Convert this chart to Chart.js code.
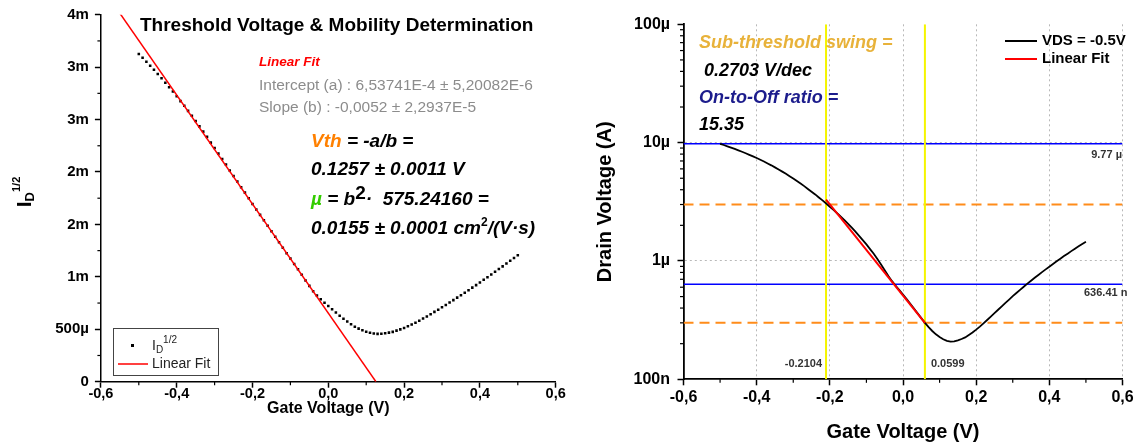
<!DOCTYPE html>
<html>
<head>
<meta charset="utf-8">
<script src="https://cdn.jsdelivr.net/npm/chart.js@4.4.0/dist/chart.umd.min.js"></script>
<style>
  body { margin: 0; background: #fff; width: 1138px; height: 445px; overflow: hidden; position: relative; }
  canvas { position: absolute; top: 0; }
  #left { left: 0; }
  #right { left: 565px; }
</style>
</head>
<body>
<canvas id="left" width="575" height="445"></canvas>
<canvas id="right" width="573" height="445"></canvas>
<script>
// measured transfer curve, VDS = -0.5 V
const gateVoltage = [
  -0.50, -0.49, -0.48, -0.47, -0.46, -0.45, -0.44, -0.43, -0.42, -0.41,
  -0.40, -0.39, -0.38, -0.37, -0.36, -0.35, -0.34, -0.33, -0.32, -0.31,
  -0.30, -0.29, -0.28, -0.27, -0.26, -0.25, -0.24, -0.23, -0.22, -0.21,
  -0.20, -0.19, -0.18, -0.17, -0.16, -0.15, -0.14, -0.13, -0.12, -0.11,
  -0.10, -0.09, -0.08, -0.07, -0.06, -0.05, -0.04, -0.03, -0.02, -0.01,
  0.00,
  0.01, 0.02, 0.03, 0.04, 0.05, 0.06, 0.07, 0.08, 0.09, 0.10,
  0.11, 0.12, 0.13, 0.14, 0.15, 0.16, 0.17, 0.18, 0.19, 0.20,
  0.21, 0.22, 0.23, 0.24, 0.25, 0.26, 0.27, 0.28, 0.29, 0.30,
  0.31, 0.32, 0.33, 0.34, 0.35, 0.36, 0.37, 0.38, 0.39, 0.40,
  0.41, 0.42, 0.43, 0.44, 0.45, 0.46, 0.47, 0.48, 0.49, 0.50
];

const drainCurrent = [
  9.77e-6, 9.55e-6, 9.31e-6, 9.08e-6, 8.85e-6, 8.61e-6, 8.37e-6, 8.13e-6, 7.89e-6, 7.66e-6,
  7.41e-6, 7.16e-6, 6.92e-6, 6.67e-6, 6.43e-6, 6.18e-6, 5.93e-6, 5.69e-6, 5.45e-6, 5.20e-6,
  4.97e-6, 4.73e-6, 4.51e-6, 4.29e-6, 4.06e-6, 3.85e-6, 3.65e-6, 3.44e-6, 3.25e-6, 3.06e-6,
  2.87e-6, 2.70e-6, 2.53e-6, 2.37e-6, 2.21e-6, 2.06e-6, 1.91e-6, 1.77e-6, 1.63e-6, 1.50e-6,
  1.38e-6, 1.26e-6, 1.15e-6, 1.04e-6, 0.933e-6, 0.835e-6, 0.745e-6, 0.675e-6, 0.618e-6, 0.567e-6,
  0.520e-6,
  0.476e-6, 0.435e-6, 0.396e-6, 0.361e-6, 0.329e-6, 0.300e-6, 0.276e-6, 0.256e-6, 0.240e-6, 0.228e-6,
  0.218e-6, 0.211e-6, 0.208e-6, 0.209e-6, 0.213e-6, 0.219e-6, 0.226e-6, 0.237e-6, 0.249e-6, 0.263e-6,
  0.279e-6, 0.297e-6, 0.317e-6, 0.339e-6, 0.362e-6, 0.387e-6, 0.414e-6, 0.443e-6, 0.472e-6, 0.504e-6,
  0.536e-6, 0.570e-6, 0.605e-6, 0.643e-6, 0.681e-6, 0.721e-6, 0.762e-6, 0.805e-6, 0.849e-6, 0.895e-6,
  0.944e-6, 0.993e-6, 1.045e-6, 1.099e-6, 1.153e-6, 1.211e-6, 1.271e-6, 1.331e-6, 1.393e-6, 1.455e-6
];

// I_D^1/2 of the same sweep
const sqrtDrainCurrent = [
  3.126e-3, 3.090e-3, 3.051e-3, 3.013e-3, 2.975e-3, 2.934e-3, 2.893e-3, 2.851e-3, 2.809e-3, 2.768e-3,
  2.722e-3, 2.676e-3, 2.631e-3, 2.583e-3, 2.536e-3, 2.486e-3, 2.435e-3, 2.385e-3, 2.335e-3, 2.280e-3,
  2.229e-3, 2.175e-3, 2.124e-3, 2.071e-3, 2.015e-3, 1.962e-3, 1.910e-3, 1.855e-3, 1.803e-3, 1.749e-3,
  1.694e-3, 1.643e-3, 1.591e-3, 1.539e-3, 1.487e-3, 1.435e-3, 1.382e-3, 1.330e-3, 1.277e-3, 1.225e-3,
  1.175e-3, 1.122e-3, 1.072e-3, 1.020e-3, 0.966e-3, 0.914e-3, 0.863e-3, 0.822e-3, 0.786e-3, 0.753e-3,
  0.721e-3,
  0.690e-3, 0.660e-3, 0.629e-3, 0.601e-3, 0.574e-3, 0.548e-3, 0.525e-3, 0.506e-3, 0.490e-3, 0.477e-3,
  0.467e-3, 0.459e-3, 0.456e-3, 0.457e-3, 0.462e-3, 0.468e-3, 0.475e-3, 0.487e-3, 0.499e-3, 0.513e-3,
  0.528e-3, 0.545e-3, 0.563e-3, 0.582e-3, 0.602e-3, 0.622e-3, 0.643e-3, 0.666e-3, 0.687e-3, 0.710e-3,
  0.732e-3, 0.755e-3, 0.778e-3, 0.802e-3, 0.825e-3, 0.849e-3, 0.873e-3, 0.897e-3, 0.921e-3, 0.946e-3,
  0.972e-3, 0.996e-3, 1.022e-3, 1.048e-3, 1.074e-3, 1.100e-3, 1.127e-3, 1.154e-3, 1.180e-3, 1.206e-3
];

// linear fit of I_D^1/2 (a + b*Vg)
const fitIntercept = 6.53741e-4;
const fitSlope = -0.0052;
const fitGateRange = [-0.6, 0.1257];

// sub-threshold fit and marker lines
const ssFitGate = [-0.2104, 0.0599];
const ssFitCurrent = [3.3e-6, 3.0e-7];
const ssGateMarks = [-0.2104, 0.0599];
const decadeLevels = [3e-6, 3e-7];
const onOffLevels = [9.77e-6, 636.41e-9];

// axes
const gateRange = [-0.6, 0.6];
const xTickValues = [-0.6, -0.4, -0.2, 0, 0.2, 0.4, 0.6];
const xTickLabels = ['-0,6', '-0,4', '-0,2', '0,0', '0,2', '0,4', '0,6'];
const xMinorTicks = [-0.5, -0.3, -0.1, 0.1, 0.3, 0.5];
const leftYTickValues = [0, 0.5e-3, 1e-3, 1.5e-3, 2e-3, 2.5e-3, 3e-3, 3.5e-3];
const leftYTickLabels = ['0', '500µ', '1m', '2m', '2m', '3m', '3m', '4m'];
const leftYMinorTicks = [0.25e-3, 0.75e-3, 1.25e-3, 1.75e-3, 2.25e-3, 2.75e-3, 3.25e-3];
const rightYRange = [1e-7, 1e-4];
const rightYTickValues = [1e-7, 1e-6, 1e-5, 1e-4];
const rightYTickLabels = ['100n', '1µ', '10µ', '100µ'];
const rightYMinorTicks = [
  2e-7, 3e-7, 4e-7, 5e-7, 6e-7, 7e-7, 8e-7, 9e-7,
  2e-6, 3e-6, 4e-6, 5e-6, 6e-6, 7e-6, 8e-6, 9e-6,
  2e-5, 3e-5, 4e-5, 5e-5, 6e-5, 7e-5, 8e-5, 9e-5
];

const FONT = '"Liberation Sans", Arial, sans-serif';
Chart.defaults.font.family = FONT;
Chart.defaults.color = '#000';

const pts = (xs, ys) => xs.map((x, i) => ({ x: x, y: ys[i] }));

function drawRuns(ctx, x, y, runs, align) {
  // runs: [text, font, color, dy]
  let total = 0;
  runs.forEach(r => { ctx.font = r[1]; total += ctx.measureText(r[0]).width; });
  let cx = align === 'right' ? x - total : align === 'center' ? x - total / 2 : x;
  ctx.textAlign = 'left';
  ctx.textBaseline = 'middle';
  runs.forEach(r => {
    ctx.font = r[1];
    ctx.fillStyle = r[2];
    ctx.fillText(r[0], cx, y + (r[3] || 0));
    cx += ctx.measureText(r[0]).width;
  });
}

function line(ctx, x1, y1, x2, y2) {
  ctx.beginPath();
  ctx.moveTo(x1, y1);
  ctx.lineTo(x2, y2);
  ctx.stroke();
}

const minorTicks = {
  id: 'minorTicks',
  afterDraw(chart, args, opts) {
    const ctx = chart.ctx;
    const xs = chart.scales.x, ys = chart.scales.y;
    ctx.save();
    ctx.strokeStyle = '#000';
    ctx.lineWidth = 1.2;
    opts.x.forEach(v => { const p = xs.getPixelForValue(v); line(ctx, p, xs.top, p, xs.top + 3.5); });
    opts.y.forEach(v => { const p = ys.getPixelForValue(v); line(ctx, ys.right - 3.5, p, ys.right, p); });
    ctx.restore();
  }
};

function baseScales(o) {
  return {
    x: {
      type: 'linear', min: gateRange[0], max: gateRange[1],
      afterBuildTicks: s => { s.ticks = xTickValues.map(v => ({ value: v })); },
      afterFit: s => { s.height = o.xHeight; },
      ticks: {
        autoSkip: false, maxRotation: 0, padding: o.xPad,
        font: { size: o.tickSize, weight: 'bold', lineHeight: 1 },
        callback: (v, i) => xTickLabels[i]
      },
      grid: o.xGrid,
      border: o.border,
      title: { display: true, text: 'Gate Voltage (V)', font: { size: o.titleSize, weight: 'bold' }, padding: { top: 0, bottom: o.titlePad } }
    },
    y: o.y
  };
}

// ---------- left: threshold voltage ----------
const leftText = {
  id: 'leftText',
  afterDraw(chart) {
    const ctx = chart.ctx;
    ctx.save();
    const bi = s => 'italic bold ' + s + 'px ' + FONT;
    drawRuns(ctx, 140, 26, [['Threshold Voltage & Mobility Determination', 'bold 19px ' + FONT, '#000']]);
    drawRuns(ctx, 259, 62, [['Linear Fit', bi(13.5), '#ff0000']]);
    drawRuns(ctx, 259, 86, [['Intercept (a) : 6,53741E-4 ± 5,20082E-6', '15.5px ' + FONT, '#8c8c8c']]);
    drawRuns(ctx, 259, 108, [['Slope (b) : -0,0052 ± 2,2937E-5', '15.5px ' + FONT, '#8c8c8c']]);
    drawRuns(ctx, 311, 142, [['Vth', bi(19), '#ff8000'], [' = -a/b =', bi(19), '#000']]);
    drawRuns(ctx, 311, 170, [['0.1257 ± 0.0011 V', bi(19), '#000']]);
    drawRuns(ctx, 311, 200, [['µ', bi(19), '#33cc00'], [' = b', bi(19), '#000'], ['2', 'bold 19px ' + FONT, '#000', -6], ['·  575.24160 =', bi(19), '#000']]);
    drawRuns(ctx, 311, 229, [['0.0155 ± 0.0001 cm', bi(19), '#000'], ['2', 'bold 12px ' + FONT, '#000', -6], ['/(V·s)', bi(19), '#000']]);

    // y title I_D^1/2
    ctx.translate(25, 192);
    ctx.rotate(-Math.PI / 2);
    drawRuns(ctx, 0, 0, [['I', 'bold 21px ' + FONT, '#000'], ['D', 'bold 13px ' + FONT, '#000', 5], ['1/2', 'bold 11px ' + FONT, '#000', -8]], 'center');
    ctx.setTransform(1, 0, 0, 1, 0, 0);

    // legend box
    ctx.strokeStyle = '#444';
    ctx.lineWidth = 1;
    ctx.fillStyle = '#fff';
    ctx.fillRect(113.5, 328.5, 105, 47);
    ctx.strokeRect(113.5, 328.5, 105, 47);
    ctx.fillStyle = '#000';
    ctx.fillRect(131, 344, 3, 3);
    drawRuns(ctx, 152, 346, [['I', '14px ' + FONT, '#222'], ['D', '10px ' + FONT, '#222', 4], ['1/2', '10px ' + FONT, '#222', -6]]);
    ctx.strokeStyle = '#ff0000';
    ctx.lineWidth = 1.5;
    line(ctx, 118, 364, 148, 364);
    drawRuns(ctx, 152, 364, [['Linear Fit', '14px ' + FONT, '#222']]);
    ctx.restore();
  }
};

new Chart(document.getElementById('left'), {
  type: 'scatter',
  data: {
    datasets: [
      {
        label: 'Linear Fit',
        data: pts(fitGateRange, fitGateRange.map(v => fitIntercept + fitSlope * v)),
        showLine: true, borderColor: '#ff0000', borderWidth: 1.5, pointRadius: 0
      },
      {
        label: 'ID^1/2',
        data: pts(gateVoltage, sqrtDrainCurrent),
        pointStyle: 'rect', pointRadius: 1.8, backgroundColor: '#000', borderWidth: 0
      }
    ]
  },
  options: {
    responsive: false, animation: false,
    layout: { padding: { top: 14.7, right: 19.3, left: 0, bottom: 0 } },
    plugins: {
      legend: { display: false }, tooltip: { enabled: false },
      minorTicks: { x: xMinorTicks, y: leftYMinorTicks }
    },
    scales: baseScales({
      xHeight: 63.3, xPad: -1, tickSize: 14.5, titleSize: 16, titlePad: 27,
      xGrid: { drawOnChartArea: false, tickLength: 6, tickColor: '#000', tickWidth: 1.5 },
      border: { color: '#000', width: 1.5 },
      y: {
        type: 'linear', min: 0, max: 3.5e-3,
        afterBuildTicks: s => { s.ticks = leftYTickValues.map(v => ({ value: v })); },
        afterFit: s => { s.width = 100.9; },
        ticks: {
          autoSkip: false, padding: 6,
          font: { size: 15, weight: 'bold', lineHeight: 1 },
          callback: (v, i) => leftYTickLabels[i]
        },
        grid: { drawOnChartArea: false, tickLength: 6, tickColor: '#000', tickWidth: 1.5 },
        border: { color: '#000', width: 1.5 }
      }
    })
  },
  plugins: [minorTicks, leftText]
});

// ---------- right: sub-threshold swing ----------
const rightText = {
  id: 'rightText',
  afterDraw(chart) {
    const ctx = chart.ctx;
    const xs = chart.scales.x;
    ctx.save();
    const bi = s => 'italic bold ' + s + 'px ' + FONT;
    drawRuns(ctx, 134, 43, [['Sub-threshold swing =', bi(18), '#e8b23a']]);
    drawRuns(ctx, 134, 71, [[' 0.2703 V/dec', bi(18), '#000']]);
    drawRuns(ctx, 134, 98, [['On-to-Off ratio =', bi(18), '#1c1c8c']]);
    drawRuns(ctx, 134, 125, [['15.35', bi(18), '#000']]);

    // legend
    ctx.lineWidth = 2;
    ctx.strokeStyle = '#000';
    line(ctx, 440, 41, 472, 41);
    ctx.strokeStyle = '#ff0000';
    line(ctx, 440, 59, 472, 59);
    drawRuns(ctx, 477, 41, [['VDS = -0.5V', 'bold 15px ' + FONT, '#000']]);
    drawRuns(ctx, 477, 59, [['Linear Fit', 'bold 15px ' + FONT, '#000']]);

    const small = 'bold 11px ' + FONT;
    drawRuns(ctx, 557, 155, [['9.77 µ', small, '#333']], 'right');
    drawRuns(ctx, 519, 293, [['636.41 n', small, '#333']]);
    drawRuns(ctx, xs.getPixelForValue(ssGateMarks[0]) - 4, 364, [['-0.2104', small, '#333']], 'right');
    drawRuns(ctx, xs.getPixelForValue(ssGateMarks[1]) + 6, 364, [['0.0599', small, '#333']]);
    ctx.restore();
  }
};

const isDecade = v => Math.abs(Math.log10(v) - Math.round(Math.log10(v))) < 1e-6;

const hLine = (y, color, dash) => ({
  data: pts(gateRange, [y, y]), showLine: true, borderColor: color, borderWidth: dash ? 2 : 1.5,
  borderDash: dash || [], pointRadius: 0, order: dash ? 3 : 4
});
const vLine = x => ({
  data: pts([x, x], rightYRange), showLine: true, borderColor: '#f5f500', borderWidth: 2,
  pointRadius: 0, order: 2
});

new Chart(document.getElementById('right'), {
  type: 'scatter',
  data: {
    datasets: [
      {
        label: 'Linear Fit', data: pts(ssFitGate, ssFitCurrent),
        showLine: true, borderColor: '#ff0000', borderWidth: 2, pointRadius: 0, order: 0
      },
      {
        label: 'VDS = -0.5V', data: pts(gateVoltage, drainCurrent),
        showLine: true, borderColor: '#000', borderWidth: 1.8, pointRadius: 0, order: 1
      },
      vLine(ssGateMarks[0]), vLine(ssGateMarks[1]),
      hLine(decadeLevels[0], '#ff8c1a', [10, 6]), hLine(decadeLevels[1], '#ff8c1a', [10, 6]),
      hLine(onOffLevels[0], '#0000ff'), hLine(onOffLevels[1], '#0000ff')
    ]
  },
  options: {
    responsive: false, animation: false,
    layout: { padding: { top: 24.3, right: 15.5, left: 0, bottom: 0 } },
    plugins: {
      legend: { display: false }, tooltip: { enabled: false },
      minorTicks: { x: xMinorTicks, y: rightYMinorTicks }
    },
    scales: baseScales({
      xHeight: 65.7, xPad: 4, tickSize: 16, titleSize: 20, titlePad: 1,
      xGrid: {
        drawOnChartArea: true, tickLength: 6, tickColor: '#000', tickWidth: 1.5, lineWidth: 1,
        color: c => (c.tick && c.tick.value > gateRange[0]) ? '#b8b8b8' : 'transparent'
      },
      border: { color: '#000', width: 1.8, dash: [2, 3] },
      y: {
        type: 'logarithmic', min: rightYRange[0], max: rightYRange[1],
        afterBuildTicks: s => { s.ticks = rightYTickValues.map(v => ({ value: v })); },
        afterFit: s => { s.width = 118.5; },
        ticks: {
          autoSkip: false, padding: 7.5,
          font: { size: 16, weight: 'bold', lineHeight: 1 },
          callback: (v, i) => rightYTickLabels[i]
        },
        grid: {
          drawOnChartArea: true, tickLength: 6, tickColor: '#000', tickWidth: 1.5, lineWidth: 1,
          color: c => (c.tick && isDecade(c.tick.value) && c.tick.value > rightYRange[0] && c.tick.value < rightYRange[1]) ? '#b8b8b8' : 'transparent'
        },
        border: { color: '#000', width: 1.8, dash: [2, 3] },
        title: { display: true, text: 'Drain Voltage (A)', font: { size: 20, weight: 'bold' }, padding: { top: 28, bottom: 0 } }
      }
    })
  },
  plugins: [minorTicks, rightText]
});
</script>
</body>
</html>
